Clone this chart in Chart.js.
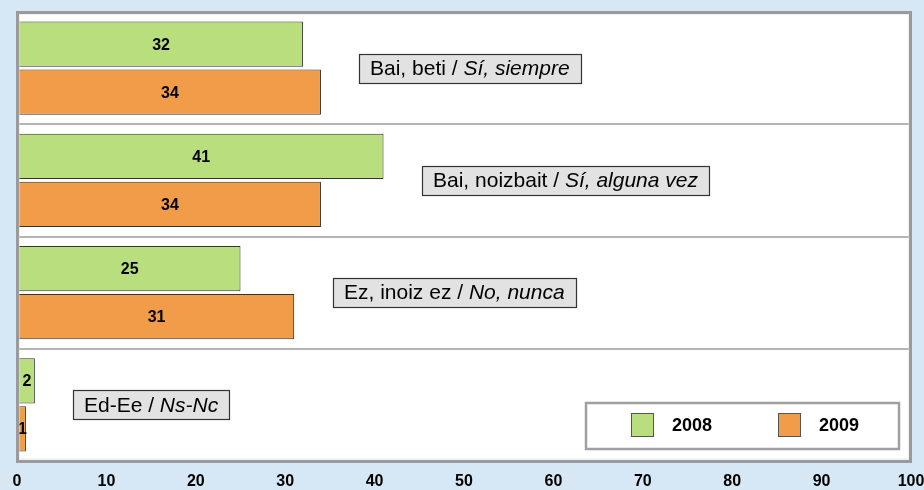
<!DOCTYPE html>
<html>
<head>
<meta charset="utf-8">
<script src="https://cdn.jsdelivr.net/npm/chart.js@4.4.1/dist/chart.umd.min.js"></script>
<style>
  html, body { margin: 0; padding: 0; background: #d6e8f5; }
  #wrap { width: 924px; height: 490px; }
</style>
</head>
<body>
<div id="wrap"><canvas id="chart" width="924" height="490"></canvas></div>
<script>
// data
const categoriesEu = ["Bai, beti", "Bai, noizbait", "Ez, inoiz ez", "Ed-Ee"];
const categoriesEs = ["Sí, siempre", "Sí, alguna vez", "No, nunca", "Ns-Nc"];
const seriesNames = ["2008", "2009"];
const values2008 = [32, 41, 25, 2];
const values2009 = [34, 34, 31, 1];
const xMin = 0;
const xMax = 100;
const xStep = 10;

const FONT = "'Liberation Sans', Arial, sans-serif";
const GREEN = "#b9de7e";
const ORANGE = "#f09c48";

// white plot background
const plotBg = {
  id: "plotBg",
  beforeDraw(chart) {
    const a = chart.chartArea;
    chart.ctx.save();
    chart.ctx.fillStyle = "#fff";
    chart.ctx.fillRect(a.left, a.top, a.right - a.left, a.bottom - a.top);
    chart.ctx.restore();
  },
};

// value labels in the middle of each bar
const barLabels = {
  id: "barLabels",
  afterDatasetsDraw(chart) {
    const ctx = chart.ctx;
    ctx.save();
    ctx.font = "bold 16px " + FONT;
    ctx.fillStyle = "#000";
    ctx.textAlign = "center";
    ctx.textBaseline = "middle";
    chart.data.datasets.forEach((ds, i) => {
      chart.getDatasetMeta(i).data.forEach((bar, j) => {
        ctx.fillText(ds.data[j], (bar.x + bar.base) / 2 + 1, bar.y + 1);
      });
    });
    ctx.restore();
  },
};

// grey boxes with the answer next to each group
const categoryBoxes = {
  id: "categoryBoxes",
  afterDatasetsDraw(chart) {
    const ctx = chart.ctx;
    const xs = chart.scales.x;
    const ys = chart.scales.y;
    ctx.save();
    ctx.textBaseline = "middle";
    categoriesEu.forEach((eu, i) => {
      const maxVal = Math.max(...chart.data.datasets.map((d) => d.data[i]));
      const left = Math.round(xs.getPixelForValue(maxVal + 4.3));
      const cy = ys.getPixelForValue(i);
      const first = eu + " / ";
      ctx.font = "21px " + FONT;
      const w1 = ctx.measureText(first).width;
      ctx.font = "italic 21px " + FONT;
      const w2 = ctx.measureText(categoriesEs[i]).width;
      const w = Math.round(w1 + w2 + 22);
      const h = 29;
      const top = Math.round(cy - h / 2);
      ctx.fillStyle = "#e2e2e2";
      ctx.fillRect(left, top, w, h);
      ctx.strokeStyle = "#333";
      ctx.lineWidth = 1.2;
      ctx.strokeRect(left + 0.5, top + 0.5, w, h);
      ctx.fillStyle = "#000";
      ctx.font = "21px " + FONT;
      ctx.fillText(first, left + 11, cy + 1);
      ctx.font = "italic 21px " + FONT;
      ctx.fillText(categoriesEs[i], left + 11 + w1, cy + 1);
    });
    ctx.restore();
  },
};

// legend box inside the plot, bottom right
const boxLegend = {
  id: "boxLegend",
  afterDatasetsDraw(chart) {
    const ctx = chart.ctx;
    const area = chart.chartArea;
    const bw = 313, bh = 46;
    const left = area.right - 12 - bw;
    const top = area.bottom - 12 - bh;
    ctx.save();
    ctx.fillStyle = "#fff";
    ctx.fillRect(left, top, bw, bh);
    ctx.strokeStyle = "#a0a0a0";
    ctx.lineWidth = 2.5;
    ctx.strokeRect(left, top, bw, bh);
    ctx.font = "bold 18px " + FONT;
    ctx.textBaseline = "middle";
    chart.data.datasets.forEach((ds, i) => {
      const sx = left + 45 + i * 147;
      ctx.fillStyle = ds.backgroundColor;
      ctx.fillRect(sx, top + 10, 22, 23);
      ctx.strokeStyle = "#555";
      ctx.lineWidth = 1;
      ctx.strokeRect(sx + 0.5, top + 10.5, 22, 23);
      ctx.fillStyle = "#000";
      ctx.fillText(ds.label, sx + 41, top + 23);
    });
    ctx.restore();
  },
};

// grey frame round the plot area
const frame = {
  id: "frame",
  afterDatasetsDraw(chart) {
    const ctx = chart.ctx;
    const a = chart.chartArea;
    ctx.save();
    ctx.strokeStyle = "#e4e4e4";
    ctx.lineWidth = 1;
    ctx.strokeRect(a.left + 2, a.top + 2, a.right - a.left - 4, a.bottom - a.top - 4);
    ctx.strokeStyle = "#9a9a9a";
    ctx.lineWidth = 3;
    ctx.strokeRect(a.left + 0.5, a.top + 0.5, a.right - a.left - 1, a.bottom - a.top);
    ctx.restore();
  },
};

new Chart(document.getElementById("chart"), {
  type: "bar",
  data: {
    labels: categoriesEu.map((eu, i) => eu + " / " + categoriesEs[i]),
    datasets: [
      {
        label: seriesNames[0],
        data: values2008,
        backgroundColor: GREEN,
        borderColor: "#333",
        borderWidth: 1,
        borderSkipped: false,
      },
      {
        label: seriesNames[1],
        data: values2009,
        backgroundColor: ORANGE,
        borderColor: "#333",
        borderWidth: 1,
        borderSkipped: false,
      },
    ],
  },
  options: {
    indexAxis: "y",
    responsive: false,
    animation: false,
    categoryPercentage: 0.856,
    barPercentage: 0.94,
    layout: { padding: { top: 12, right: 13, left: 0, bottom: 0 } },
    plugins: {
      legend: { display: false },
      tooltip: { enabled: false },
    },
    scales: {
      x: {
        min: xMin,
        max: xMax,
        grid: { display: false, drawTicks: false },
        border: { display: false },
        ticks: {
          stepSize: xStep,
          color: "#000",
          padding: 11,
          labelOffset: 0,
          font: { family: FONT, size: 16, weight: "bold" },
        },
        afterFit(axis) {
          axis.height = 29;
          axis.paddingLeft = 0;
          axis.paddingRight = 0;
        },
      },
      y: {
        grid: { color: "#b4b4b4", lineWidth: 2, drawTicks: false },
        border: { display: false },
        ticks: { display: false },
        afterFit(axis) { axis.width = 17; },
      },
    },
  },
  plugins: [plotBg, barLabels, categoryBoxes, boxLegend, frame],
});
</script>
</body>
</html>
